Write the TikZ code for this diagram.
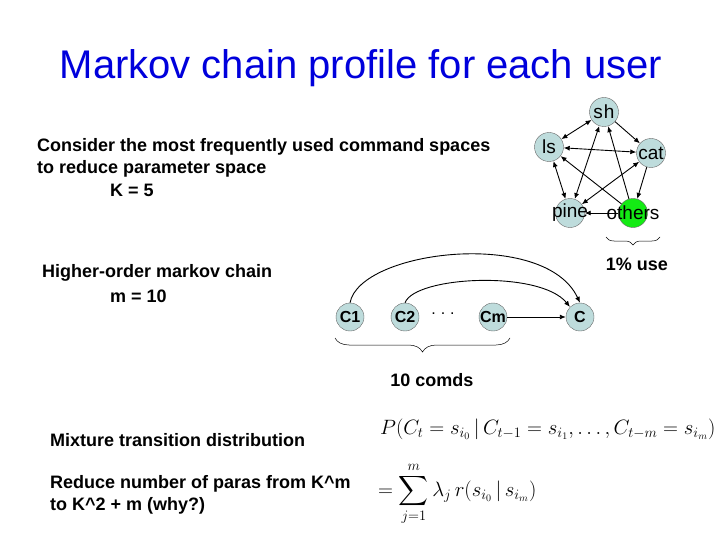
\documentclass[tikz,border=0pt]{standalone}
\usepackage{amsmath}
\usepackage{fontspec}
\setmainfont{Liberation Sans}
\setsansfont{Liberation Sans}
\usetikzlibrary{arrows.meta,decorations.pathreplacing}
\definecolor{nodefill}{RGB}{190,220,220}
\definecolor{nodegreen}{RGB}{20,235,20}
\definecolor{titleblue}{RGB}{0,0,220}
\tikzset{
  st/.style={circle,draw=black!60,fill=nodefill,minimum size=29pt,inner sep=0pt},
  stg/.style={st,fill=nodegreen},
  lab/.style={font=\fontsize{19}{19}\selectfont},
  clab/.style={font=\bfseries\fontsize{16}{16}\selectfont},
  body/.style={font=\bfseries\fontsize{18}{18}\selectfont,anchor=west,inner sep=0pt},
  arr/.style={-{Latex[length=6pt,width=5pt]},line width=0.9pt},
  darr/.style={{Latex[length=6pt,width=5pt]}-{Latex[length=6pt,width=5pt]},line width=0.9pt},
  brace/.style={decorate,decoration={brace,amplitude=8pt},line width=0.5pt}
}
\begin{document}
\begin{tikzpicture}[x=1pt,y=-1pt]
\useasboundingbox (0,0) rectangle (720,540);
\node[font=\fontsize{40}{40}\selectfont,text=titleblue] (title) at (361,68) {Markov chain profile for each user};

% pentagon
\node[st] (sh) at (604,112) {};
\node[st] (ls) at (549,147) {};
\node[st] (cat) at (651,153) {};
\node[st] (pine) at (570,213) {};
\node[stg] (others) at (633,213) {};
\node[lab] (tsh) at (sh.center) {s\kern1pt h};
\node[lab] (tls) at (ls.center) {ls};
\node[lab] (tcat) at (cat.center) {cat};
\node[lab] (tpine) at (pine.center) {pine};
\node[lab] (tothers) at (others.center) {others};
\draw[darr] (sh) -- (ls);
\draw[arr] (sh) -- (cat);
\draw[darr] (ls) -- (cat);
\draw[darr] (ls) -- (pine);
\draw[darr] (pine) -- (sh);
\draw[darr] (pine) -- (cat);
\draw[arr] (cat) -- (others);
\draw[arr] (others) -- (pine);
\draw[arr] (others) -- (sh);
\draw[arr] (others) -- (ls);
\coordinate (ob1) at (606,237);
\coordinate (ob2) at (660,237);
\draw[brace] (ob2) -- (ob1);
\node[font=\bfseries\fontsize{18}{18}\selectfont] (use) at (637,264) {1\% use};

% chain
\node[st,minimum size=28pt] (c1) at (350,317) {};
\node[st,minimum size=28pt] (c2) at (405,317) {};
\node[font=\fontsize{16}{16}\selectfont] (dots) at (443,314) {.\hspace{5pt}.\hspace{5pt}.};
\node[st,minimum size=28pt] (cm) at (493,317) {};
\node[st,minimum size=28pt] (c) at (580,317) {};
\node[clab] (tc1) at (c1.center) {C1};
\node[clab] (tc2) at (c2.center) {C2};
\node[clab] (tcm) at (cm.center) {Cm};
\node[clab] (tc) at (c.center) {C};
\draw[arr] (cm) -- (c);
\draw[arr] (c1.north) .. controls (360,250) and (545,228) .. (c.north);
\draw[arr] (c2.north) .. controls (415,276) and (540,270) .. (c.north west);
\coordinate (cb1) at (335,338);
\coordinate (cb2) at (510,338);
\draw[brace,decoration={amplitude=14pt}] (cb2) -- (cb1);
\node[font=\bfseries\fontsize{18}{18}\selectfont] (comds) at (432,380) {10 comds};

% text
\node[body] (t1a) at (37,147) {Consider the most frequently used command spaces};
\node[body] (t1b) at (37,169) {to reduce parameter space};
\node[body] (t1c) at (110,190) {K = 5};
\node[body] (t2a) at (42,273) {Higher-order markov chain};
\node[body] (t2b) at (110,296) {m = 10};
\node[body] (t3) at (50,440) {Mixture transition distribution};
\node[body] (t4a) at (50,484) {Reduce number of paras from K\textasciicircum m};
\node[body] (t4b) at (50,506) {to K\textasciicircum 2 + m (why?)};

% formulas
\node[font=\fontsize{20}{20}\selectfont,anchor=west,inner sep=0pt] (f1) at (380,429) {$P(C_t=s_{i_0}\,|\,C_{t-1}=s_{i_1},\ldots,C_{t-m}=s_{i_m})$};
\node[font=\fontsize{20.5}{20.5}\selectfont,anchor=west,inner sep=0pt] (f2) at (378,494) {$\displaystyle=\sum_{j=1}^{m}\lambda_j\, r(s_{i_0}\,|\,s_{i_m})$};
\end{tikzpicture}
\end{document}
